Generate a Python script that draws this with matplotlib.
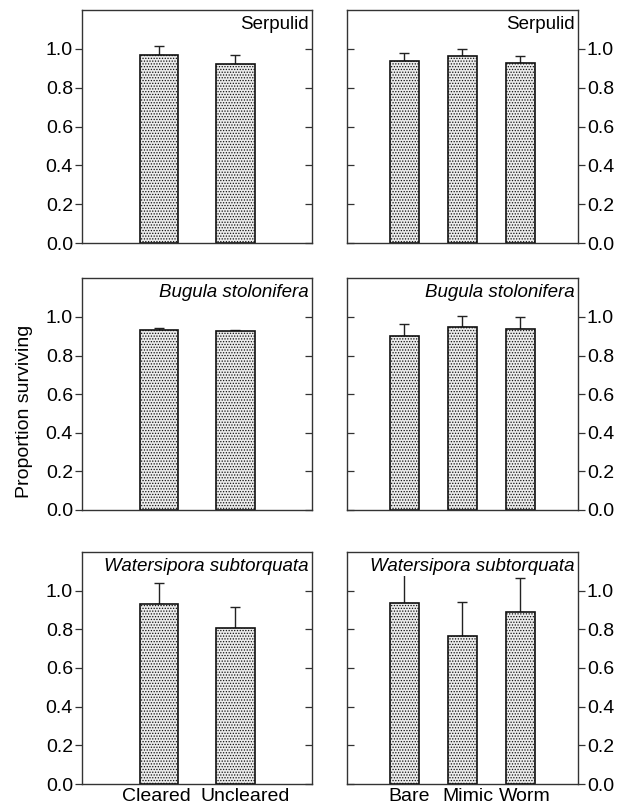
import numpy as np
import matplotlib.pyplot as plt
from matplotlib.transforms import ScaledTranslation

plt.rcParams["font.family"] = ["Liberation Sans", "DejaVu Sans"]
plt.rcParams["hatch.color"] = "#959595"
plt.rcParams["hatch.linewidth"] = 0.6

# clearing experiment (left column) and mimic experiment (right column)
clear_labels = ["Cleared", "Uncleared"]
mimic_labels = ["Bare", "Mimic", "Worm"]
species = ["Serpulid", "Bugula stolonifera", "Watersipora subtorquata"]
italic = [False, True, True]

serp_clear = [0.969, 0.921]
serp_clear_se = [0.046, 0.045]
serp_mimic = [0.938, 0.964, 0.929]
serp_mimic_se = [0.040, 0.036, 0.036]

bugula_clear = [0.930, 0.927]
bugula_clear_se = [0.013, 0.007]
bugula_mimic = [0.903, 0.946, 0.938]
bugula_mimic_se = [0.062, 0.061, 0.060]

waters_clear = [0.929, 0.805]
waters_clear_se = [0.111, 0.108]
waters_mimic = [0.934, 0.765, 0.889]
waters_mimic_se = [0.190, 0.175, 0.174]

clear_vals = [(serp_clear, serp_clear_se), (bugula_clear, bugula_clear_se), (waters_clear, waters_clear_se)]
mimic_vals = [(serp_mimic, serp_mimic_se), (bugula_mimic, bugula_mimic_se), (waters_mimic, waters_mimic_se)]

yticks = [0.0, 0.2, 0.4, 0.6, 0.8, 1.0]

fig = plt.figure(figsize=(6.19, 8.09), dpi=100)

rows = [(0.6996, 0.288), (0.3696, 0.2864), (0.0309, 0.2868)]
cols = [(0.1325, 0.3716), (0.5600, 0.3737)]


def draw_panel(ax, vals, errs, labels, name, ital, side, show_x, label_shift=None):
    x = np.arange(1, len(vals) + 1)
    ax.bar(x, vals, width=0.5, facecolor="#ececec", edgecolor="#111111",
           linewidth=1.2, hatch="......", zorder=2)
    ax.errorbar(x, vals, yerr=[np.zeros(len(errs)), errs], fmt="none",
                ecolor="#222222", elinewidth=1.0, capsize=3.5, capthick=1.0, zorder=1)
    ax.set_xlim(0, len(vals) + 1)
    ax.set_ylim(0, 1.2)
    for s in ax.spines.values():
        s.set_linewidth(1.0)
        s.set_color("#333333")

    # labelled ticks point outward, the opposite spine gets short inward ticks
    ax.set_yticks(yticks)
    ax.set_yticklabels([f"{t:.1f}" for t in yticks])
    other = "right" if side == "left" else "left"
    ax.yaxis.set_ticks_position(side)
    ax.tick_params(axis="y", direction="out", labelsize=14, length=5, width=0.9,
                   color="#333333", pad=1.5)
    sec = ax.secondary_yaxis(other)
    sec.set_yticks(yticks)
    sec.tick_params(axis="y", direction="in", length=5, width=0.9, color="#333333",
                    labelleft=False, labelright=False)
    sec.spines[other].set_visible(False)

    if show_x:
        ax.set_xticks(x)
        ax.set_xticklabels(labels, fontsize=14)
        ax.tick_params(axis="x", length=0, pad=3)
        for lbl, dx in zip(ax.get_xticklabels(), label_shift):
            lbl.set_transform(lbl.get_transform() + ScaledTranslation(dx / 72, 0, fig.dpi_scale_trans))
    else:
        ax.set_xticks([])
    ax.text(0.985, 0.975, name, transform=ax.transAxes, ha="right", va="top",
            fontsize=13.5, style="italic" if ital else "normal", zorder=5,
            bbox=dict(facecolor="white", edgecolor="none", pad=0.5))


for r, (bottom, height) in enumerate(rows):
    axl = fig.add_axes([cols[0][0], bottom, cols[0][1], height])
    v, e = clear_vals[r]
    draw_panel(axl, v, e, clear_labels, species[r], italic[r], "left", r == 2, [-2, 7])
    axr = fig.add_axes([cols[1][0], bottom, cols[1][1], height])
    v, e = mimic_vals[r]
    draw_panel(axr, v, e, mimic_labels, species[r], italic[r], "right", r == 2, [3, 4, 3])

fig.text(0.04, 0.492, "Proportion surviving", rotation=90, ha="center", va="center",
         fontsize=14)

fig.savefig("out.png", dpi=100)
